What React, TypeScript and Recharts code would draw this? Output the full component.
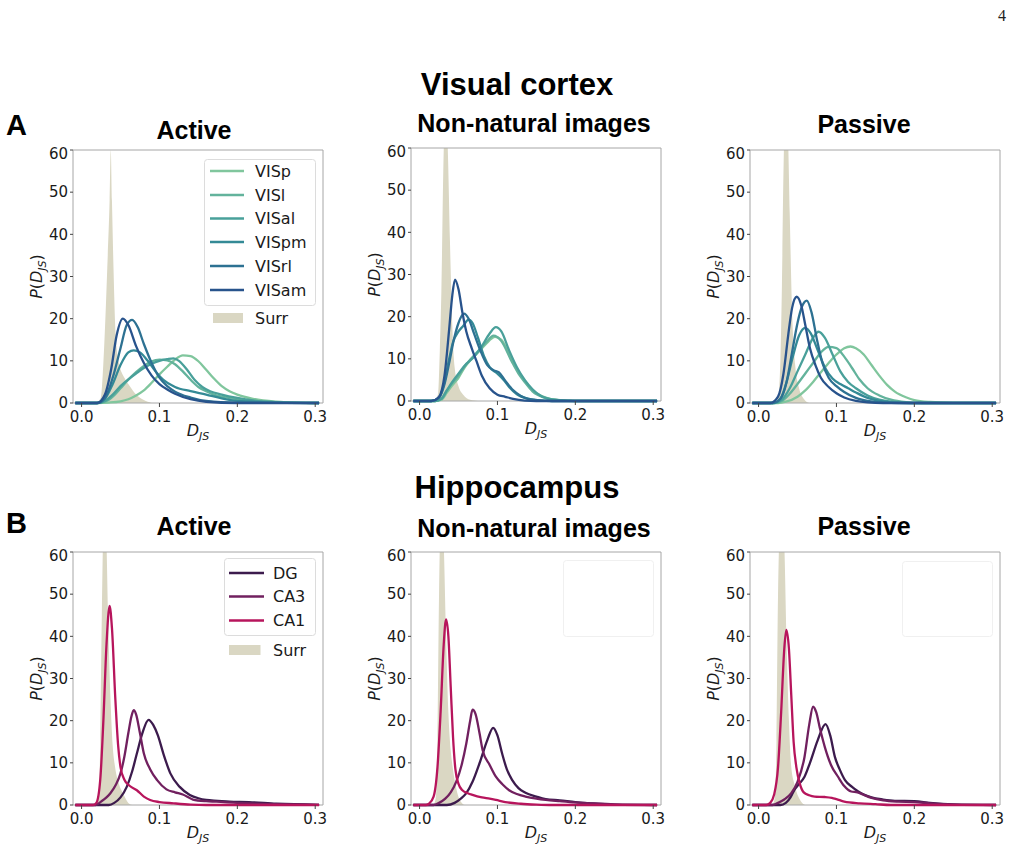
import React from "react";
import { ComposedChart, Line, Area, XAxis, YAxis, ReferenceArea, Legend } from "recharts";

type Pt = [number, number];

const X_DOMAIN: [number, number] = [-0.011, 0.31];
const xTicks = [0, 0.1, 0.2, 0.3];
const yTicks = [0, 10, 20, 30, 40, 50, 60];

const visNames = ["VISp", "VISl", "VISal", "VISpm", "VISrl", "VISam"];
const visColors = ["#80c69d", "#63b39c", "#49a09a", "#348a96", "#2d7192", "#28538c"];
const hipNames = ["DG", "CA3", "CA1"];
const hipColors = ["#3c1b4d", "#71205f", "#b7155c"];
const SURR = "#dad7c3";

// ---- Visual cortex, Active
const aActSurr: Pt[] = [[0.018, 0], [0.022, 0.5], [0.025, 1.5], [0.028, 9.5], [0.031, 22], [0.033, 32], [0.036, 48], [0.0375, 60], [0.039, 48], [0.041, 32], [0.0436, 16.6], [0.048, 9.5], [0.055, 6], [0.062, 4], [0.07, 2], [0.08, 0.7], [0.09, 0]];
const aActVISp: Pt[] = [[-0.008, 0], [0.02, 0], [0.035, 0.1], [0.05, 0.4], [0.06, 0.9], [0.07, 1.8], [0.08, 3], [0.09, 4.8], [0.1, 6.8], [0.11, 8.6], [0.12, 10.3], [0.13, 11.3], [0.14, 11.1], [0.15, 9.9], [0.16, 7.9], [0.17, 5.8], [0.18, 4], [0.19, 2.8], [0.2, 2], [0.22, 1], [0.25, 0.3], [0.28, 0.05], [0.305, 0]];
const aActVISl: Pt[] = [[-0.008, 0], [0.02, 0], [0.03, 0.3], [0.04, 1.5], [0.05, 3.5], [0.06, 5.5], [0.07, 7.3], [0.08, 8.8], [0.09, 9.9], [0.1, 10.3], [0.11, 10.1], [0.12, 9.2], [0.13, 7.5], [0.14, 5.5], [0.15, 3.8], [0.16, 2.8], [0.17, 2], [0.18, 1.5], [0.2, 0.9], [0.22, 0.5], [0.25, 0.2], [0.305, 0]];
const aActVISal: Pt[] = [[-0.008, 0], [0.02, 0], [0.03, 0.5], [0.04, 2], [0.05, 4], [0.06, 5.6], [0.07, 7], [0.08, 8.3], [0.09, 9.3], [0.1, 10], [0.11, 10.4], [0.118, 10.6], [0.125, 10], [0.135, 8], [0.145, 5.5], [0.155, 3.8], [0.165, 2.8], [0.18, 2], [0.2, 1.2], [0.22, 0.6], [0.25, 0.2], [0.305, 0]];
const aActVISpm: Pt[] = [[-0.008, 0], [0.02, 0], [0.03, 1], [0.04, 4.5], [0.05, 9], [0.06, 12], [0.067, 12.5], [0.075, 12], [0.085, 10], [0.095, 7.5], [0.105, 5.5], [0.12, 3.8], [0.14, 2.8], [0.16, 2], [0.18, 1.1], [0.2, 0.5], [0.25, 0.1], [0.305, 0]];
const aActVISrl: Pt[] = [[-0.008, 0], [0.02, 0], [0.03, 1.2], [0.04, 6], [0.05, 13], [0.058, 18.5], [0.065, 19.7], [0.072, 18], [0.08, 14], [0.09, 9.5], [0.1, 6], [0.11, 4], [0.12, 2.7], [0.14, 1.3], [0.16, 0.5], [0.2, 0.1], [0.305, 0]];
const aActVISam: Pt[] = [[-0.008, 0], [0.02, 0], [0.03, 2], [0.038, 8], [0.045, 16], [0.053, 20], [0.06, 18.5], [0.07, 13.5], [0.08, 9.5], [0.09, 6.5], [0.1, 4.5], [0.11, 3.2], [0.12, 2.2], [0.14, 0.9], [0.16, 0.3], [0.2, 0], [0.305, 0]];

// ---- Visual cortex, Non-natural images
const aNatSurr: Pt[] = [[0.02, 0], [0.024, 2], [0.026, 12], [0.028, 26], [0.0305, 55], [0.0335, 72], [0.0365, 58], [0.039, 38], [0.042, 18], [0.045, 8], [0.05, 3.5], [0.056, 1.5], [0.065, 0.3], [0.075, 0]];
const aNatVISp: Pt[] = [[-0.008, 0], [0.02, 0], [0.028, 0.3], [0.035, 2], [0.041, 3.5], [0.05, 5.5], [0.058, 8], [0.066, 9.8], [0.075, 11.5], [0.085, 13.5], [0.097, 15.2], [0.105, 14.5], [0.118, 10], [0.127, 7], [0.135, 4.8], [0.145, 2.5], [0.152, 1.6], [0.165, 0.6], [0.18, 0.2], [0.2, 0.05], [0.305, 0]];
const aNatVISl: Pt[] = [[-0.008, 0], [0.02, 0], [0.028, 0.5], [0.035, 2.5], [0.041, 4], [0.05, 6], [0.058, 8.3], [0.066, 10], [0.075, 11.8], [0.085, 13.8], [0.095, 15.5], [0.105, 14.2], [0.118, 9.5], [0.127, 6.5], [0.135, 4.5], [0.145, 2.3], [0.152, 1.4], [0.165, 0.5], [0.18, 0.15], [0.2, 0], [0.305, 0]];
const aNatVISal: Pt[] = [[-0.008, 0], [0.02, 0], [0.028, 0.5], [0.035, 2.5], [0.042, 4.5], [0.05, 6.5], [0.06, 8.8], [0.07, 10.5], [0.08, 13], [0.09, 16], [0.098, 17.5], [0.105, 16.5], [0.115, 12], [0.125, 8], [0.135, 5], [0.145, 2.8], [0.155, 1.3], [0.17, 0.4], [0.19, 0.1], [0.2, 0], [0.305, 0]];
const aNatVISpm: Pt[] = [[-0.008, 0], [0.015, 0], [0.025, 0.8], [0.032, 4.5], [0.038, 10], [0.043, 14], [0.05, 16.5], [0.056, 17.8], [0.063, 19.3], [0.068, 18.5], [0.075, 15], [0.083, 10.5], [0.09, 8], [0.1, 6.5], [0.108, 5], [0.115, 3.3], [0.125, 1.6], [0.14, 0.5], [0.155, 0.1], [0.17, 0], [0.305, 0]];
const aNatVISrl: Pt[] = [[-0.008, 0], [0.015, 0], [0.025, 0.8], [0.032, 4], [0.038, 9], [0.044, 14.5], [0.05, 18.5], [0.057, 20.7], [0.063, 19.5], [0.07, 16], [0.078, 12], [0.087, 8.5], [0.095, 7.3], [0.102, 6.8], [0.11, 4.8], [0.12, 2.6], [0.13, 1.2], [0.14, 0.5], [0.16, 0.1], [0.17, 0], [0.305, 0]];
const aNatVISam: Pt[] = [[-0.008, 0], [0.015, 0], [0.025, 1], [0.032, 6], [0.038, 17], [0.042, 25], [0.0455, 28.8], [0.05, 26.5], [0.055, 21], [0.06, 16.5], [0.067, 12.5], [0.073, 9.5], [0.08, 6], [0.09, 3], [0.1, 1.5], [0.11, 1], [0.12, 0.5], [0.135, 0.1], [0.15, 0], [0.305, 0]];

// ---- Visual cortex, Passive
const aPasSurr: Pt[] = [[0.02, 0], [0.025, 1], [0.028, 10], [0.03, 28], [0.032, 55], [0.035, 72], [0.038, 62], [0.04, 45], [0.043, 22], [0.047, 9], [0.052, 3.5], [0.058, 1], [0.065, 0]];
const aPasVISp: Pt[] = [[-0.008, 0], [0.025, 0], [0.035, 0.3], [0.05, 1.5], [0.06, 3], [0.07, 5], [0.08, 7.3], [0.09, 9.5], [0.1, 11.5], [0.11, 13], [0.118, 13.4], [0.125, 13], [0.135, 11.5], [0.145, 9], [0.155, 6.5], [0.165, 4.3], [0.175, 2.7], [0.19, 1.3], [0.2, 0.7], [0.22, 0.25], [0.25, 0.05], [0.305, 0]];
const aPasVISl: Pt[] = [[-0.008, 0], [0.02, 0], [0.03, 0.5], [0.04, 2.2], [0.05, 4.5], [0.06, 7], [0.07, 9.5], [0.08, 12], [0.09, 13.3], [0.1, 13], [0.11, 11], [0.12, 8.3], [0.13, 5.5], [0.14, 3.5], [0.155, 1.8], [0.17, 0.8], [0.19, 0.2], [0.21, 0], [0.305, 0]];
const aPasVISal: Pt[] = [[-0.008, 0], [0.02, 0], [0.03, 0.8], [0.04, 3.5], [0.05, 7.5], [0.06, 11.5], [0.07, 15.5], [0.077, 16.9], [0.085, 15.5], [0.095, 11.5], [0.105, 7.5], [0.115, 5], [0.125, 3.5], [0.14, 1.8], [0.155, 0.8], [0.17, 0.3], [0.19, 0.05], [0.2, 0], [0.305, 0]];
const aPasVISpm: Pt[] = [[-0.008, 0], [0.018, 0], [0.028, 1], [0.036, 5], [0.044, 11], [0.052, 16], [0.06, 17.8], [0.067, 16.5], [0.075, 13], [0.085, 8.5], [0.095, 5.8], [0.105, 4.5], [0.115, 3.5], [0.125, 2.5], [0.14, 1.2], [0.155, 0.5], [0.17, 0.15], [0.19, 0], [0.305, 0]];
const aPasVISrl: Pt[] = [[-0.008, 0], [0.018, 0], [0.028, 1], [0.036, 5], [0.043, 12], [0.05, 19], [0.056, 23], [0.062, 24.3], [0.068, 21.5], [0.075, 15], [0.082, 9.5], [0.09, 6], [0.1, 4], [0.11, 2.6], [0.125, 1.2], [0.14, 0.5], [0.16, 0.1], [0.18, 0], [0.305, 0]];
const aPasVISam: Pt[] = [[-0.008, 0], [0.015, 0], [0.025, 1.5], [0.032, 7], [0.038, 16], [0.043, 22.5], [0.049, 25.2], [0.055, 23], [0.06, 18.5], [0.066, 13], [0.073, 9], [0.08, 6], [0.09, 3.8], [0.1, 2.3], [0.11, 1.3], [0.125, 0.5], [0.14, 0.15], [0.16, 0], [0.305, 0]];

// ---- Hippocampus, Active
const bActSurr: Pt[] = [[0.018, 0], [0.022, 2], [0.024, 15], [0.026, 45], [0.029, 72], [0.032, 62], [0.034, 45], [0.037, 26], [0.04, 14], [0.043, 9], [0.048, 5], [0.054, 2.5], [0.06, 0.5], [0.065, 0]];
const bActDG: Pt[] = [[-0.008, 0], [0.035, 0], [0.042, 0.5], [0.05, 1.8], [0.058, 4.3], [0.065, 8], [0.071, 12.2], [0.078, 17], [0.086, 20.2], [0.092, 19], [0.098, 16.5], [0.105, 12.2], [0.114, 7.5], [0.126, 4.3], [0.139, 2.4], [0.15, 1.6], [0.16, 1.2], [0.175, 1], [0.19, 0.8], [0.215, 0.7], [0.25, 0.3], [0.305, 0.05]];
const bActCA3: Pt[] = [[-0.008, 0], [0.018, 0], [0.025, 0.8], [0.032, 1.8], [0.037, 2.8], [0.044, 4.8], [0.05, 7.5], [0.055, 11.5], [0.06, 17], [0.064, 21], [0.067, 22.5], [0.07, 21.5], [0.075, 17], [0.08, 12.2], [0.088, 8.5], [0.097, 5.9], [0.109, 3.7], [0.12, 3], [0.13, 2.5], [0.143, 1.3], [0.16, 0.9], [0.173, 0.8], [0.2, 0.5], [0.25, 0.2], [0.305, 0.05]];
const bActCA1: Pt[] = [[-0.008, 0], [0.015, 0], [0.019, 0.5], [0.024, 6], [0.028, 20], [0.032, 38], [0.036, 47.2], [0.039, 42], [0.0434, 25], [0.047, 14], [0.05, 9], [0.055, 6], [0.062, 4.5], [0.071, 3.5], [0.08, 2], [0.088, 1.2], [0.1, 0.7], [0.118, 0.4], [0.14, 0.1], [0.16, 0], [0.305, 0]];

// ---- Hippocampus, Non-natural images
const bNatSurr: Pt[] = [[0.018, 0], [0.021, 2], [0.023, 15], [0.025, 50], [0.028, 72], [0.031, 62], [0.034, 40], [0.037, 22], [0.04, 13], [0.0425, 9], [0.046, 5], [0.049, 2.5], [0.053, 0.8], [0.058, 0]];
const bNatDG: Pt[] = [[-0.008, 0], [0.035, 0], [0.045, 0.5], [0.053, 1.5], [0.06, 2.8], [0.068, 5.5], [0.077, 9.9], [0.087, 15.4], [0.0945, 18.3], [0.1, 16.5], [0.106, 12.2], [0.112, 8.5], [0.119, 5.9], [0.127, 4], [0.136, 2.9], [0.15, 2], [0.162, 1.4], [0.18, 1.1], [0.2, 0.7], [0.22, 0.4], [0.25, 0.1], [0.305, 0]];
const bNatCA3: Pt[] = [[-0.008, 0], [0.018, 0], [0.025, 0.5], [0.033, 1.5], [0.04, 3], [0.047, 5.5], [0.054, 9.5], [0.06, 14.6], [0.065, 20], [0.068, 22.6], [0.072, 21.5], [0.077, 17], [0.081, 13], [0.09, 9.5], [0.098, 6.7], [0.107, 4.8], [0.115, 3.5], [0.125, 2.6], [0.136, 2], [0.15, 1.5], [0.162, 1.2], [0.18, 0.9], [0.2, 0.6], [0.22, 0.4], [0.25, 0.15], [0.305, 0]];
const bNatCA1: Pt[] = [[-0.008, 0], [0.008, 0], [0.012, 0.3], [0.018, 2], [0.023, 9], [0.027, 22], [0.031, 38], [0.034, 44], [0.037, 40], [0.04, 28], [0.043, 16], [0.046, 8.5], [0.05, 5], [0.055, 3.5], [0.062, 2.8], [0.068, 2.4], [0.08, 1.8], [0.09, 1.5], [0.098, 1.2], [0.11, 0.7], [0.13, 0.3], [0.15, 0.1], [0.17, 0], [0.305, 0]];

// ---- Hippocampus, Passive
const bPasSurr: Pt[] = [[0.018, 0], [0.021, 2], [0.023, 15], [0.025, 50], [0.029, 72], [0.033, 62], [0.036, 38], [0.039, 20], [0.042, 9], [0.046, 5], [0.051, 2], [0.056, 0.5], [0.06, 0]];
const bPasDG: Pt[] = [[-0.008, 0], [0.028, 0], [0.035, 0.5], [0.041, 1.8], [0.046, 3.6], [0.052, 5], [0.059, 6.7], [0.066, 10], [0.076, 15.4], [0.086, 19.2], [0.092, 16.5], [0.098, 11.4], [0.104, 8.5], [0.111, 5.9], [0.12, 4.3], [0.128, 3.2], [0.136, 2.4], [0.145, 1.8], [0.16, 1.3], [0.175, 1], [0.2, 0.9], [0.22, 0.5], [0.25, 0.15], [0.305, 0]];
const bPasCA3: Pt[] = [[-0.008, 0], [0.018, 0], [0.025, 0.5], [0.033, 1.3], [0.042, 2.8], [0.05, 5.5], [0.059, 11.4], [0.065, 19], [0.07, 23.3], [0.074, 22], [0.079, 18], [0.085, 13.8], [0.093, 9.5], [0.102, 6.7], [0.11, 4.5], [0.119, 3.2], [0.127, 3], [0.135, 2.4], [0.145, 1.7], [0.16, 1.1], [0.18, 0.8], [0.2, 0.7], [0.22, 0.4], [0.25, 0.1], [0.305, 0]];
const bPasCA1: Pt[] = [[-0.008, 0], [0.01, 0], [0.015, 0.5], [0.02, 2.5], [0.025, 9], [0.029, 22], [0.033, 37], [0.0356, 41.5], [0.039, 37], [0.042, 26], [0.045, 15], [0.0485, 9], [0.053, 5], [0.058, 3], [0.065, 2.3], [0.072, 2], [0.085, 1.9], [0.094, 1.7], [0.1, 1.4], [0.11, 0.8], [0.13, 0.4], [0.15, 0.2], [0.17, 0], [0.305, 0]];

const toRows = (pts: Pt[]) => pts.map(([d, p]) => ({ d, p }));

const TICK_FONT = { fontSize: 15, fill: "#1a1a1a", fontFamily: "DejaVu Sans" };

type LegendSpec = {
  left: number;
  top: number;
  boxW: number;
  boxH: number;
  names: string[];
  colors: string[];
  line: [number, number];
  textX: number;
  rows: number[];
  surr?: { x0: number; x1: number; row: number };
  faint?: boolean;
};

function BoxLegend({ spec }: { spec: LegendSpec }) {
  const h = spec.surr ? spec.surr.row + 12 : spec.boxH + 2;
  return (
    <svg width={spec.boxW + 2} height={h} style={{ display: "block", overflow: "visible" }}>
      <rect x={0.5} y={0.5} width={spec.boxW} height={spec.boxH} rx={3} fill="#fff" fillOpacity={0.8}
        stroke={spec.faint ? "#f0f0f0" : "#dcdcdc"} strokeWidth={1} />
      {spec.names.map((n, i) => (
        <g key={n}>
          <line x1={spec.line[0]} x2={spec.line[1]} y1={spec.rows[i]} y2={spec.rows[i]} stroke={spec.colors[i]} strokeWidth={2.3} />
          <text x={spec.textX} y={spec.rows[i]} dy="0.36em" fontSize={16} fontFamily="DejaVu Sans" fill="#1a1a1a">{n}</text>
        </g>
      ))}
      {spec.surr && (
        <g>
          <rect x={spec.surr.x0} y={spec.surr.row - 5} width={spec.surr.x1 - spec.surr.x0} height={10} fill={SURR} />
          <text x={spec.textX} y={spec.surr.row} dy="0.36em" fontSize={16} fontFamily="DejaVu Sans" fill="#1a1a1a">Surr</text>
        </g>
      )}
    </svg>
  );
}

type PanelProps = {
  left: number;
  top: number;
  surr: Pt[];
  curves: Pt[][];
  colors: string[];
  legend?: LegendSpec;
};

function Panel({ left, top, surr, curves, colors, legend }: PanelProps) {
  return (
    <div style={{ position: "absolute", left: left - 50, top: top - 5 }}>
      <ComposedChart width={305} height={303} margin={{ top: 5, right: 5, bottom: 0, left: 0 }}>
        <XAxis
          type="number"
          dataKey="d"
          domain={X_DOMAIN}
          ticks={xTicks}
          tickFormatter={(v: number) => v.toFixed(1)}
          axisLine={false}
          tickSize={4}
          tickMargin={4}
          height={45}
          tick={TICK_FONT}
          tickLine={{ stroke: "#444" }}
        />
        <YAxis
          yAxisId="main"
          type="number"
          domain={[0, 60]}
          ticks={yTicks}
          width={50}
          axisLine={false}
          tickSize={3}
          tickMargin={2}
          tick={TICK_FONT}
          tickLine={{ stroke: "#444" }}
        />
        <YAxis yAxisId="surr" type="number" domain={[0, 60]} hide allowDataOverflow />
        <Area
          yAxisId="surr"
          data={toRows(surr)}
          dataKey="p"
          type="monotone"
          fill={SURR}
          fillOpacity={1}
          stroke="none"
          isAnimationActive={false}
        />
        {curves.map((c, i) => (
          <Line
            key={i}
            yAxisId="main"
            data={toRows(c)}
            dataKey="p"
            type="monotone"
            stroke={colors[i]}
            strokeWidth={2.3}
            dot={false}
            activeDot={false}
            isAnimationActive={false}
          />
        ))}
        <ReferenceArea
          yAxisId="main"
          x1={X_DOMAIN[0]}
          x2={X_DOMAIN[1]}
          y1={0}
          y2={60}
          fill="none"
          fillOpacity={0}
          stroke="#a6a6a6"
          strokeWidth={1}
          ifOverflow="visible"
        />
        {legend && (
          <Legend
            layout="horizontal"
            verticalAlign="middle"
            align="center"
            wrapperStyle={{ left: legend.left, top: legend.top, width: legend.boxW + 2, height: 180 }}
            content={() => <BoxLegend spec={legend} />}
          />
        )}
      </ComposedChart>
    </div>
  );
}

const visLegend: LegendSpec = {
  left: 181, top: 14, boxW: 111, boxH: 146, names: visNames, colors: visColors,
  line: [6, 40], textX: 51, rows: [12, 36, 59.5, 83, 107, 131], surr: { x0: 9, x1: 39, row: 159 },
};
const hipLegend: LegendSpec = {
  left: 201, top: 11, boxW: 91, boxH: 77, names: hipNames, colors: hipColors,
  line: [5, 40], textX: 49, rows: [15, 38.5, 62.5], surr: { x0: 5, x1: 36.5, row: 92 },
};
const faintLegendNat: LegendSpec = {
  left: 202, top: 13, boxW: 90, boxH: 76, names: [], colors: [], line: [0, 0], textX: 0, rows: [], faint: true,
};
const faintLegendPas: LegendSpec = {
  left: 202, top: 14, boxW: 90, boxH: 75, names: [], colors: [], line: [0, 0], textX: 0, rows: [], faint: true,
};

const plotPos = {
  aAct: [73, 150], aNat: [411, 148], aPas: [750, 150],
  bAct: [73, 552], bNat: [411, 552], bPas: [750, 552],
};

function YLabel({ px, py }: { px: number; py: number }) {
  const x = px - 31;
  const y = py + 126.5;
  return (
    <text x={x} y={y} transform={`rotate(-90, ${x}, ${y})`} textAnchor="middle" fontSize={16} fontFamily="DejaVu Sans" fill="#1a1a1a">
      <tspan fontStyle="italic">P</tspan>
      <tspan>(</tspan>
      <tspan fontStyle="italic">D</tspan>
      <tspan fontStyle="italic" fontSize={11} dy={4}>JS</tspan>
      <tspan dy={-4}>)</tspan>
    </text>
  );
}

function XLabel({ px, py }: { px: number; py: number }) {
  return (
    <text x={px + 125} y={py + 286} textAnchor="middle" fontSize={16} fontFamily="DejaVu Sans" fill="#1a1a1a">
      <tspan fontStyle="italic">D</tspan>
      <tspan fontStyle="italic" fontSize={11} dy={4}>JS</tspan>
    </text>
  );
}

export default function App() {
  const boldFont = "Liberation Sans, Arial, sans-serif";
  const all = Object.values(plotPos);
  return (
    <div style={{ position: "absolute", left: 0, top: 0, width: 1014, height: 851, background: "#fff" }}>
      <Panel left={plotPos.aAct[0]} top={plotPos.aAct[1]} surr={aActSurr}
        curves={[aActVISp, aActVISl, aActVISal, aActVISpm, aActVISrl, aActVISam]} colors={visColors} legend={visLegend} />
      <Panel left={plotPos.aNat[0]} top={plotPos.aNat[1]} surr={aNatSurr}
        curves={[aNatVISp, aNatVISl, aNatVISal, aNatVISpm, aNatVISrl, aNatVISam]} colors={visColors} />
      <Panel left={plotPos.aPas[0]} top={plotPos.aPas[1]} surr={aPasSurr}
        curves={[aPasVISp, aPasVISl, aPasVISal, aPasVISpm, aPasVISrl, aPasVISam]} colors={visColors} />
      <Panel left={plotPos.bAct[0]} top={plotPos.bAct[1]} surr={bActSurr}
        curves={[bActDG, bActCA3, bActCA1]} colors={hipColors} legend={hipLegend} />
      <Panel left={plotPos.bNat[0]} top={plotPos.bNat[1]} surr={bNatSurr}
        curves={[bNatDG, bNatCA3, bNatCA1]} colors={hipColors} legend={faintLegendNat} />
      <Panel left={plotPos.bPas[0]} top={plotPos.bPas[1]} surr={bPasSurr}
        curves={[bPasDG, bPasCA3, bPasCA1]} colors={hipColors} legend={faintLegendPas} />

      <svg width={1014} height={851} style={{ position: "absolute", left: 0, top: 0, pointerEvents: "none" }}>
        <text x={1002} y={21} textAnchor="middle" fontSize={16} fontFamily="Liberation Serif, serif" fill="#222">4</text>
        <text x={517} y={95} textAnchor="middle" fontSize={31} fontWeight="bold" fontFamily={boldFont}>Visual cortex</text>
        <text x={517} y={498} textAnchor="middle" fontSize={31} fontWeight="bold" fontFamily={boldFont}>Hippocampus</text>
        <text x={6} y={135} fontSize={29} fontWeight="bold" fontFamily={boldFont}>A</text>
        <text x={6} y={533} fontSize={29} fontWeight="bold" fontFamily={boldFont}>B</text>
        <text x={194} y={139} textAnchor="middle" fontSize={25} fontWeight="bold" fontFamily={boldFont}>Active</text>
        <text x={534} y={132} textAnchor="middle" fontSize={25} fontWeight="bold" fontFamily={boldFont}>Non-natural images</text>
        <text x={864} y={133} textAnchor="middle" fontSize={25} fontWeight="bold" fontFamily={boldFont}>Passive</text>
        <text x={194} y={535} textAnchor="middle" fontSize={25} fontWeight="bold" fontFamily={boldFont}>Active</text>
        <text x={534} y={537} textAnchor="middle" fontSize={25} fontWeight="bold" fontFamily={boldFont}>Non-natural images</text>
        <text x={864} y={535} textAnchor="middle" fontSize={25} fontWeight="bold" fontFamily={boldFont}>Passive</text>
        {all.map(([px, py], i) => (
          <g key={i}>
            <YLabel px={px} py={py} />
            <XLabel px={px} py={py} />
          </g>
        ))}
      </svg>
    </div>
  );
}
